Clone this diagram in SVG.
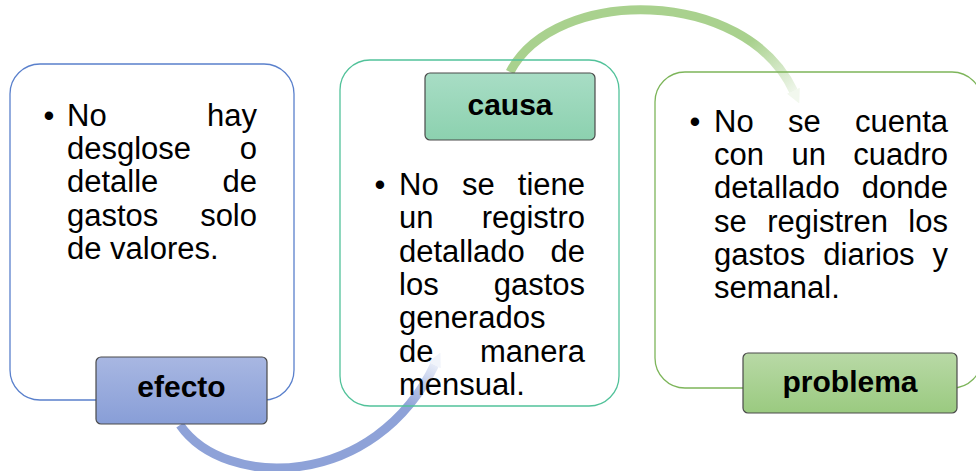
<svg xmlns="http://www.w3.org/2000/svg" width="976" height="471" viewBox="0 0 976 471">
<style>
.box{fill:none;stroke-width:1.3}
.lblbox{stroke:#4a4a4a;stroke-width:1.2}
.t{font-family:"Liberation Sans",Arial,sans-serif;font-size:31px;fill:#000}
.e{text-anchor:end}
.lbl{font-family:"Liberation Sans",Arial,sans-serif;font-size:30px;font-weight:bold;fill:#000;text-anchor:middle}
.arrow{fill:none;stroke-width:9;stroke-linecap:butt}
</style>
<defs>
<linearGradient id="gBlue" x1="0" y1="0" x2="0" y2="1"><stop offset="0" stop-color="#A8B7E2"/><stop offset="1" stop-color="#889ED7"/></linearGradient>
<linearGradient id="gTeal" x1="0" y1="0" x2="0" y2="1"><stop offset="0" stop-color="#A8DDC5"/><stop offset="1" stop-color="#8CD1AF"/></linearGradient>
<linearGradient id="gGreen" x1="0" y1="0" x2="0" y2="1"><stop offset="0" stop-color="#B8D9A6"/><stop offset="1" stop-color="#9ACA80"/></linearGradient>
<linearGradient id="aBlue" gradientUnits="userSpaceOnUse" x1="410" y1="408" x2="438" y2="360"><stop offset="0" stop-color="#8EA2D8"/><stop offset="1" stop-color="#F2F5FC"/></linearGradient>
<linearGradient id="aGreen" gradientUnits="userSpaceOnUse" x1="752" y1="40" x2="796" y2="96"><stop offset="0" stop-color="#A9D18E"/><stop offset="1" stop-color="#F3F8F0"/></linearGradient>
<marker id="mBlue" viewBox="0 0 10 10" refX="1" refY="5" markerWidth="14" markerHeight="20" markerUnits="userSpaceOnUse" orient="auto"><path d="M0,0 L10,5 L0,10 Z" fill="#F1F4FB"/></marker>
<marker id="mGreen" viewBox="0 0 10 10" refX="1" refY="5" markerWidth="14" markerHeight="20" markerUnits="userSpaceOnUse" orient="auto"><path d="M0,0 L10,5 L0,10 Z" fill="#F2F8EE"/></marker>
</defs>

<g id="connectors">
<path class="arrow" d="M180,425 C225,490 375,490 435,364" stroke="url(#aBlue)" marker-end="url(#mBlue)"/>
<path class="arrow" d="M510,72 C555,-14 745,-14 794,92" stroke="url(#aGreen)" marker-end="url(#mGreen)"/>
</g>

<g id="efecto">
<rect class="box" x="10" y="64" width="284" height="336" rx="30" stroke="#5A80CC"/>
<rect class="lblbox" x="96" y="357" width="171" height="67" rx="5" fill="url(#gBlue)"/>
<text class="lbl" x="181.5" y="397">efecto</text>
<text class="t" x="43.6" y="125.7">•</text>
<text class="t" x="67" y="125.7">No</text><text class="t e" x="257" y="125.7">hay</text>
<text class="t" x="67" y="159">desglose</text><text class="t e" x="257" y="159">o</text>
<text class="t" x="67" y="192.3">detalle</text><text class="t e" x="257" y="192.3">de</text>
<text class="t" x="67" y="225.6">gastos</text><text class="t e" x="257" y="225.6">solo</text>
<text class="t" x="67" y="259">de valores.</text>
</g>

<g id="causa">
<rect class="box" x="340" y="60" width="279" height="346" rx="30" stroke="#52C29A"/>
<rect class="lblbox" x="425" y="73" width="170" height="67" rx="5" fill="url(#gTeal)"/>
<text class="lbl" x="510" y="115">causa</text>
<text class="t" x="374.6" y="195">•</text>
<text class="t" x="399" y="195">No</text><text class="t" x="461.9" y="195">se</text><text class="t e" x="585" y="195">tiene</text>
<text class="t" x="399" y="228.3">un</text><text class="t e" x="585" y="228.3">registro</text>
<text class="t" x="399" y="261.7">detallado</text><text class="t e" x="585" y="261.7">de</text>
<text class="t" x="399" y="295">los</text><text class="t e" x="585" y="295">gastos</text>
<text class="t" x="399" y="328.3">generados</text>
<text class="t" x="399" y="361.7">de</text><text class="t e" x="585" y="361.7">manera</text>
<text class="t" x="399" y="395">mensual.</text>
</g>

<g id="problema">
<rect class="box" x="655" y="72" width="327" height="316" rx="30" stroke="#7DB55A"/>
<rect class="lblbox" x="743" y="353" width="214" height="60" rx="5" fill="url(#gGreen)"/>
<text class="lbl" x="850" y="392">problema</text>
<text class="t" x="689.6" y="131.7">•</text>
<text class="t" x="714" y="131.7">No</text><text class="t" x="787.9" y="131.7">se</text><text class="t e" x="948" y="131.7">cuenta</text>
<text class="t" x="714" y="165">con</text><text class="t" x="791.4" y="165">un</text><text class="t e" x="948" y="165">cuadro</text>
<text class="t" x="714" y="198.3">detallado</text><text class="t e" x="948" y="198.3">donde</text>
<text class="t" x="714" y="231.7">se</text><text class="t" x="767.3" y="231.7">registren</text><text class="t e" x="948" y="231.7">los</text>
<text class="t" x="714" y="265">gastos</text><text class="t" x="823.3" y="265">diarios</text><text class="t e" x="948" y="265">y</text>
<text class="t" x="714" y="298.3">semanal.</text>
</g>
</svg>
